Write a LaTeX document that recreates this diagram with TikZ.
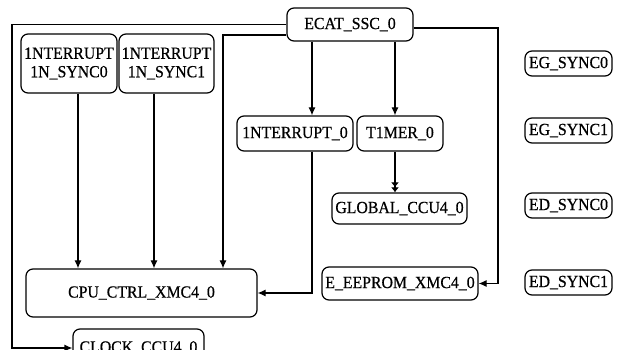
\documentclass[tikz,border=0pt]{standalone}
\usepackage{fontspec}
\setmainfont{Liberation Serif}[FakeStretch=0.93,FakeBold=0.6]
\usepackage{tikz}
\usetikzlibrary{positioning}
\usetikzlibrary{calc}
\usetikzlibrary{arrows.meta}

\begin{document}
\begin{tikzpicture}[x=1pt,y=-1pt,
  blk/.style={draw,line width=1.2pt,rounded corners=7pt,inner sep=1pt,font=\fontsize{17}{18.5}\selectfont},
  arr/.style={line width=1.2pt,-{Latex[length=8pt,width=7pt]}},
  darr/.style={line width=1.2pt,-{Latex[length=5pt,width=8pt]Latex[length=5pt,width=8pt]}}]
\useasboundingbox (0,0) rectangle (625,350);

\node [blk,minimum width=126pt,minimum height=33pt] (ecat) at (350,24.5) {ECAT\_SSC\_0};
\node [blk,minimum width=96pt,minimum height=59pt,align=center] (sync0) at (69,63.5) {1NTERRUPT\\1N\_SYNC0};
\node [blk,minimum width=95pt,minimum height=59pt,align=center] (sync1) at (166.5,63.5) {1NTERRUPT\\1N\_SYNC1};
\node [blk,minimum width=116pt,minimum height=35pt] (intr) at (295,133.5) {1NTERRUPT\_0};
\node [blk,minimum width=86pt,minimum height=35pt] (timer) at (400,133.5) {T1MER\_0};
\node [blk,minimum width=135pt,minimum height=31pt] (glob) at (399.5,208.5) {GLOBAL\_CCU4\_0};
\node [blk,minimum width=156pt,minimum height=33pt] (eeprom) at (400,283.5) {E\_EEPROM\_XMC4\_0};
\node [blk,minimum width=231pt,minimum height=48pt] (cpu) at (141.5,293) {CPU\_CTRL\_XMC4\_0};
\node [blk,minimum width=131pt,minimum height=38pt] (clock) at (138.5,348) {CLOCK\_CCU4\_0};

\node [blk,minimum width=87pt,minimum height=25pt] (egs0) at (568.5,63.5) {EG\_SYNC0};
\node [blk,minimum width=87pt,minimum height=25pt] (egs1) at (568.5,130.5) {EG\_SYNC1};
\node [blk,minimum width=87pt,minimum height=25pt] (eds0) at (568.5,205.5) {ED\_SYNC0};
\node [blk,minimum width=87pt,minimum height=25pt] (eds1) at (568.5,282.5) {ED\_SYNC1};

\coordinate (lft) at (12,24.5);
\coordinate (k2) at (223,35);
\coordinate (xa) at (312,0);
\coordinate (xb) at (395,0);
\coordinate (xc) at (498,0);

\draw [arr] (ecat.west) -- (lft) |- (clock.west);
\draw [arr] ([yshift=-10.5pt]ecat.west) -- (k2) -- (k2 |- cpu.north);
\draw [arr] (sync0.south -| 78,0) -- (cpu.north -| 78,0);
\draw [arr] (sync1.south -| 154,0) -- (cpu.north -| 154,0);
\draw [arr] (ecat.south -| xa) -- (intr.north -| xa);
\draw [arr] (ecat.south -| xb) -- (timer.north -| xb);
\draw [arr] (intr.south -| xa) |- (cpu.east);
\draw [darr] (timer.south -| xb) -- (glob.north -| xb);
\draw [arr] ([yshift=-3.5pt]ecat.east) -| (xc |- eeprom.east) -- (eeprom.east);
\end{tikzpicture}
\end{document}
